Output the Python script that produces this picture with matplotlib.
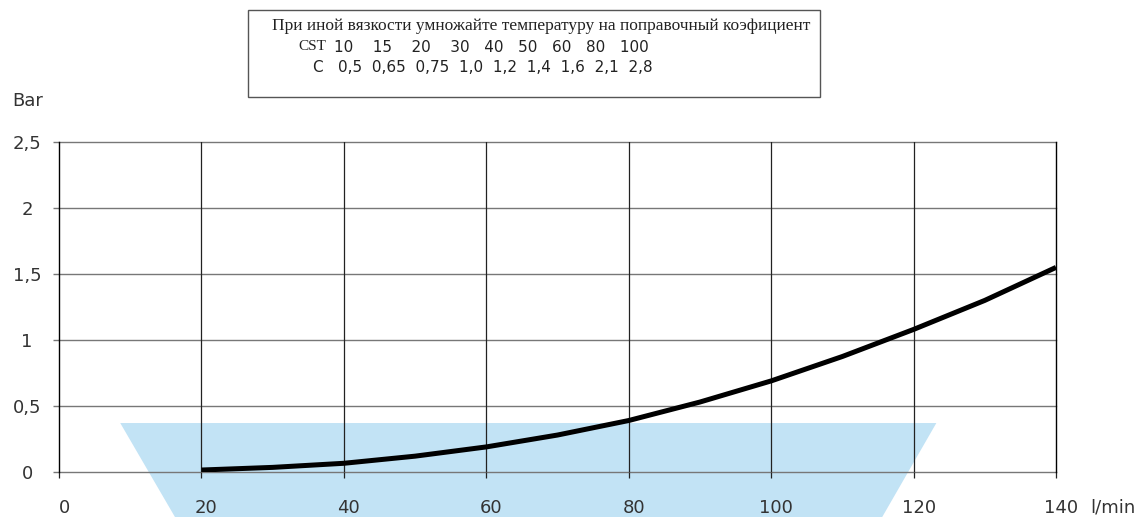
import matplotlib
matplotlib.use("Agg")
import matplotlib.pyplot as plt
import matplotlib.transforms as mtransforms
from matplotlib.patches import Rectangle, Polygon

# данные кривой (л/мин -> бар)
flow = [20, 30, 40, 50, 60, 70, 80, 90, 100, 110, 120, 130, 140]
pressure = [0.015, 0.035, 0.066, 0.12, 0.19, 0.28, 0.39, 0.53, 0.69, 0.875, 1.08, 1.30, 1.55]

# голубая зона (трапеция)
zone_x = [8.6, 123.2, 113.9, 18.0]
zone_y = [0.371, 0.371, -0.5, -0.5]

x_ticks = [0, 20, 40, 60, 80, 100, 120, 140]
y_ticks = [0, 0.5, 1, 1.5, 2, 2.5]
y_labels = ["0", "0,5", "1", "1,5", "2", "2,5"]

note_title = "При иной вязкости умножайте температуру на поправочный коэфициент"
cst_values = "10    15    20    30   40   50   60   80   100"
c_values = "0,5  0,65  0,75  1,0  1,2  1,4  1,6  2,1  2,8"

W, H = 1139, 517
fig = plt.figure(figsize=(W / 100, H / 100), dpi=100)
ax = fig.add_axes([59 / W, 45 / H, 997 / W, 330 / H])
ax.set_xlim(0, 140)
ax.set_ylim(0, 2.5)

ax.add_patch(Polygon(list(zip(zone_x, zone_y)), closed=True, facecolor="#c2e3f5",
                     edgecolor="none", clip_on=False, zorder=0))

for yv in y_ticks:
    ax.axhline(yv, color="#777777", lw=1.0, zorder=1, clip_on=False)
for xv in x_ticks[1:-1]:
    ax.axvline(xv, color="#222222", lw=0.9, zorder=1)

ax.plot(flow, pressure, color="black", lw=3.6, solid_capstyle="butt",
        solid_joinstyle="round", zorder=3)

for side in ["top", "bottom"]:
    ax.spines[side].set_visible(False)
ax.spines["left"].set_color("black")
ax.spines["right"].set_color("black")
ax.spines["left"].set_linewidth(1.0)
ax.spines["right"].set_linewidth(1.0)

ax.set_xticks(x_ticks)
ax.set_xticklabels([str(v) for v in x_ticks])
ax.set_yticks(y_ticks)
ax.set_yticklabels(y_labels)
ax.tick_params(axis="x", direction="out", length=6 * 0.72, width=0.9, color="#222222",
               pad=15, labelsize=13, labelcolor="#333333")
ax.tick_params(axis="y", direction="out", length=6 * 0.72, width=1.0, color="#777777",
               pad=18.7, labelsize=13, labelcolor="#333333")
for lab in ax.get_yticklabels():
    lab.set_horizontalalignment("center")
shift = mtransforms.ScaledTranslation(5 / 100, 0, fig.dpi_scale_trans)
for lab in ax.get_xticklabels():
    lab.set_transform(lab.get_transform() + shift)

fig.text(1090 / W, 1 - 507 / H, "l/min", fontsize=13, color="#333333", va="center", ha="left")
fig.text(12 / W, 1 - 101 / H, "Bar", fontsize=13, color="#333333", va="center", ha="left")

# рамка с примечанием
fig.add_artist(Rectangle((248 / W, 1 - 97 / H), 572 / W, 87 / H, transform=fig.transFigure,
                         fill=False, edgecolor="#555555", lw=1.0))
fig.text(272 / W, 1 - 26 / H, note_title, family="Liberation Serif", fontsize=12.5,
         color="#222222", va="center", ha="left")
fig.text(298 / W, 1 - 47 / H, "CST", family="Liberation Serif", fontsize=11,
         color="#222222", va="center", ha="left")
fig.text(334 / W, 1 - 47 / H, cst_values, fontsize=11, color="#222222", va="center", ha="left")
fig.text(312 / W, 1 - 67 / H, "C", fontsize=11, color="#222222", va="center", ha="left")
fig.text(338 / W, 1 - 67 / H, c_values, fontsize=11, color="#222222", va="center", ha="left")

fig.savefig("out.png", dpi=100)
